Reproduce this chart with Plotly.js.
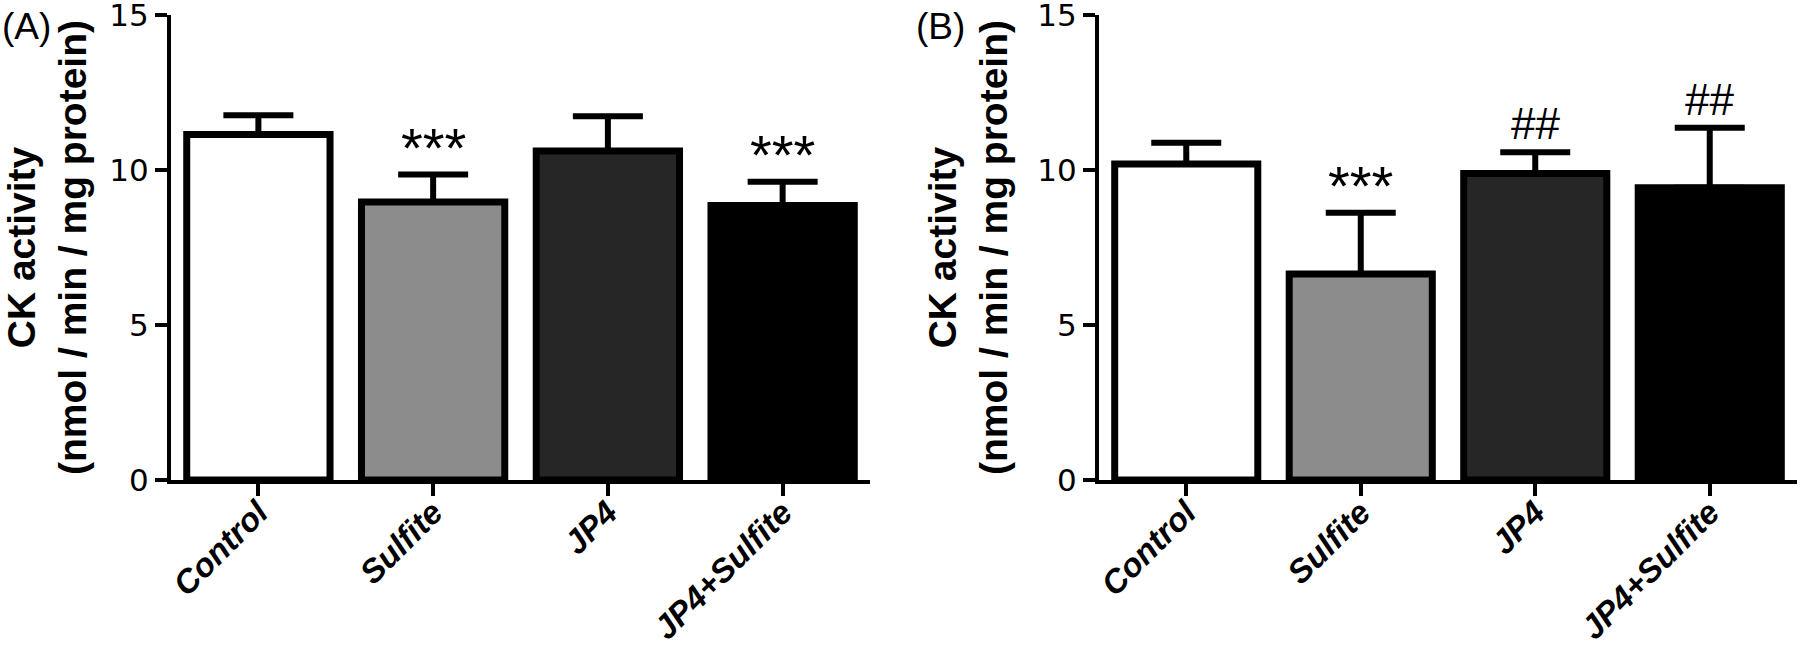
<!DOCTYPE html>
<html>
<head>
<meta charset="utf-8">
<script src="https://cdn.plot.ly/plotly-3.0.1.min.js"></script>
<style>html,body{margin:0;padding:0;background:#fff;}#chart{width:1800px;height:650px;}</style>
</head>
<body>
<div id="chart"></div>
<script>
// Data
const categories = ["Control", "Sulfite", "JP4", "JP4+Sulfite"];
const valuesA = [11.15, 8.97, 10.62, 8.86];
const errorsA = [0.62, 0.89, 1.12, 0.77];
const valuesB = [10.20, 6.65, 9.89, 9.43];
const errorsB = [0.69, 1.98, 0.69, 1.94];
const marksA = ["", "***", "", "***"];
const marksB = ["", "***", "##", "##"];
const barColors = ["#ffffff", "#8c8c8c", "#262626", "#000000"];
const yTickVals = [0, 5, 10, 15];
const panelLabels = ["(A)", "(B)"];
const yTitle = "<b>CK activity</b><br><b>(nmol / min / mg protein)</b>";

const FONT = "Arial, 'Liberation Sans', Helvetica, sans-serif";

function barTrace(vals, errs, xa, ya) {
  return {
    type: "bar",
    x: categories,
    y: vals,
    xaxis: xa,
    yaxis: ya,
    width: 0.82,
    marker: { color: barColors, line: { color: "#000", width: 7 } },
    error_y: {
      type: "data",
      symmetric: false,
      array: errs,
      arrayminus: errs.map(() => 0),
      color: "#000",
      thickness: 6,
      width: 35
    },
    hoverinfo: "x+y",
    showlegend: false
  };
}

const data = [
  barTrace(valuesA, errorsA, "x", "y"),
  barTrace(valuesB, errorsB, "x2", "y2")
];

function xAxis(domain, anchor) {
  return {
    domain: domain,
    anchor: anchor,
    range: [-0.5, 3.5],
    showline: true,
    linecolor: "#000",
    linewidth: 4,
    ticks: "outside",
    ticklen: 12,
    tickwidth: 4,
    tickcolor: "#000",
    tickangle: -45,
    ticklabelstandoff: -16,
    ticklabeloverflow: "allow",
    tickfont: { family: FONT, size: 33, color: "#000", weight: 700, style: "italic" },
    showgrid: false,
    zeroline: false,
    fixedrange: true
  };
}
function yAxis(domain, anchor) {
  return {
    domain: domain,
    anchor: anchor,
    range: [0, 15.01],
    tickvals: yTickVals,
    ticktext: yTickVals.map(String),
    showline: true,
    linecolor: "#000",
    linewidth: 4,
    ticks: "outside",
    ticklen: 12,
    tickwidth: 4,
    tickcolor: "#000",
    ticklabeloverflow: "allow",
    tickfont: { family: "'DejaVu Sans', Arial, sans-serif", size: 31, color: "#000" },
    showgrid: false,
    zeroline: false,
    fixedrange: true,
    title: { text: yTitle, font: { family: FONT, size: 39, color: "#000" }, standoff: 19 }
  };
}

const yDom = [1 - 480 / 650, 1 - 15 / 650];

const annotations = [];
function addMarks(marks, vals, errs, xref, yref) {
  marks.forEach((m, i) => {
    if (!m) return;
    const isStar = m.indexOf("*") >= 0;
    annotations.push({
      xref: xref, yref: yref,
      x: categories[i], y: vals[i] + errs[i],
      text: m,
      showarrow: false,
      xanchor: "center", yanchor: "bottom",
      yshift: isStar ? -6 : 2,
      font: { family: FONT, size: isStar ? 56 : 44, color: "#000" }
    });
  });
}
addMarks(marksA, valuesA, errorsA, "x", "y");
addMarks(marksB, valuesB, errorsB, "x2", "y2");

annotations.push({
  xref: "paper", yref: "paper", x: 0, y: 1, xanchor: "left", yanchor: "top",
  text: panelLabels[0], showarrow: false, yshift: -4,
  font: { family: FONT, size: 37, color: "#000" }
});
annotations.push({
  xref: "paper", yref: "paper", x: 914 / 1800, y: 1, xanchor: "left", yanchor: "top",
  text: panelLabels[1], showarrow: false, yshift: -4,
  font: { family: FONT, size: 37, color: "#000" }
});

const layout = {
  width: 1800,
  height: 650,
  margin: { l: 0, r: 0, t: 0, b: 0, pad: 0 },
  paper_bgcolor: "#fff",
  plot_bgcolor: "#fff",
  xaxis: xAxis([171 / 1800, 870 / 1800], "y"),
  yaxis: yAxis(yDom, "x"),
  xaxis2: xAxis([1099 / 1800, 1797 / 1800], "y2"),
  yaxis2: yAxis(yDom, "x2"),
  annotations: annotations,
  font: { family: FONT, color: "#000" }
};

Plotly.newPlot("chart", data, layout, { displayModeBar: false, staticPlot: true });
</script>
</body>
</html>
